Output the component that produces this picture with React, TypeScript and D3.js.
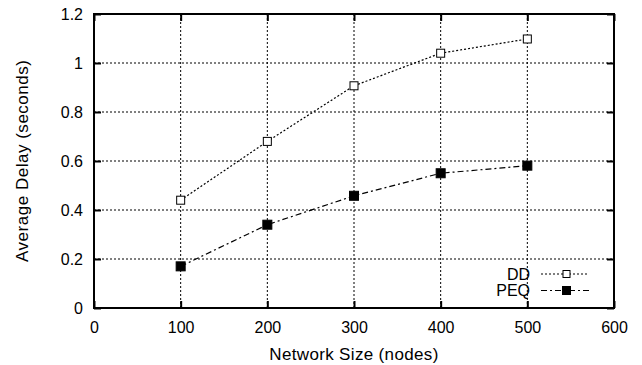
import React, { useRef, useEffect } from 'react';
import * as d3 from 'd3';

// Data
const nodes = [100, 200, 300, 400, 500];
const ddDelay = [0.44, 0.68, 0.907, 1.04, 1.098];
const peqDelay = [0.17, 0.34, 0.458, 0.55, 0.581];
const xTicks = [0, 100, 200, 300, 400, 500, 600];
const yTicks = [0, 0.2, 0.4, 0.6, 0.8, 1, 1.2];
const seriesNames = ['DD', 'PEQ'];

const App = () => {
  const chartRef = useRef<SVGSVGElement | null>(null);

  useEffect(() => {
    const width = 642;
    const height = 365;
    const margin = { top: 14, right: 28, bottom: 57, left: 94 };
    const font = '"Liberation Sans", Arial, sans-serif';

    const svg = d3.select(chartRef.current);
    svg.selectAll('*').remove();

    const innerW = width - margin.left - margin.right;
    const innerH = height - margin.top - margin.bottom;

    const x = d3.scaleLinear().domain([0, 600]).range([0, innerW]);
    const y = d3.scaleLinear().domain([0, 1.2]).range([innerH, 0]);

    const g = svg
      .append('g')
      .attr('transform', `translate(${margin.left},${margin.top})`);

    // grid
    g.selectAll('.gx')
      .data(xTicks.slice(1, -1))
      .enter()
      .append('line')
      .attr('x1', (d) => x(d))
      .attr('x2', (d) => x(d))
      .attr('y1', 0)
      .attr('y2', innerH)
      .attr('stroke', '#000')
      .attr('stroke-width', 1)
      .attr('stroke-dasharray', '2,2');

    g.selectAll('.gy')
      .data(yTicks.slice(1, -1))
      .enter()
      .append('line')
      .attr('x1', 0)
      .attr('x2', innerW)
      .attr('y1', (d) => y(d))
      .attr('y2', (d) => y(d))
      .attr('stroke', '#000')
      .attr('stroke-width', 1)
      .attr('stroke-dasharray', '2,2');

    // axes with inward ticks on all four sides
    const tickLen = 7;
    const bottom = g
      .append('g')
      .attr('transform', `translate(0,${innerH})`)
      .call(d3.axisBottom(x).tickValues(xTicks).tickSize(-tickLen).tickPadding(14).tickFormat(d3.format('d')));
    const top = g
      .append('g')
      .call(d3.axisTop(x).tickValues(xTicks).tickSize(-tickLen).tickFormat(() => ''));
    const left = g
      .append('g')
      .call(d3.axisLeft(y).tickValues(yTicks).tickSize(-tickLen).tickPadding(11).tickFormat((d) => String(+d)));
    const right = g
      .append('g')
      .attr('transform', `translate(${innerW},0)`)
      .call(d3.axisRight(y).tickValues(yTicks).tickSize(-tickLen).tickFormat(() => ''));

    [bottom, top, left, right].forEach((ax) => {
      ax.select('.domain').remove();
      ax.selectAll('.tick line').attr('stroke', '#000').attr('stroke-width', 2);
      ax.selectAll('.tick text')
        .attr('fill', '#000')
        .style('font-family', font)
        .style('font-size', '16px');
    });

    // frame
    g.append('rect')
      .attr('x', 0)
      .attr('y', 0)
      .attr('width', innerW)
      .attr('height', innerH)
      .attr('fill', 'none')
      .attr('stroke', '#000')
      .attr('stroke-width', 2);

    // series
    const styles = [
      { values: ddDelay, dash: '2,2', filled: false, size: 8 },
      { values: peqDelay, dash: '6,3,2,3', filled: true, size: 9 },
    ];

    const line = d3
      .line<number>()
      .x((_, i) => x(nodes[i]))
      .y((d) => y(d));

    styles.forEach((s) => {
      g.append('path')
        .datum(s.values)
        .attr('d', line)
        .attr('fill', 'none')
        .attr('stroke', '#000')
        .attr('stroke-width', 1.2)
        .attr('stroke-dasharray', s.dash);

      g.selectAll(null)
        .data(s.values)
        .enter()
        .append('rect')
        .attr('x', (_, i) => x(nodes[i]) - s.size / 2)
        .attr('y', (d) => y(d) - s.size / 2)
        .attr('width', s.size)
        .attr('height', s.size)
        .attr('fill', s.filled ? '#000' : '#fff')
        .attr('stroke', '#000')
        .attr('stroke-width', 1);
    });

    // legend
    const legend = svg.append('g');
    seriesNames.forEach((name, i) => {
      const s = styles[i];
      const ly = 274 + i * 16.5;
      legend
        .append('text')
        .attr('x', 530)
        .attr('y', ly)
        .attr('dy', '0.36em')
        .attr('text-anchor', 'end')
        .style('font-family', font)
        .style('font-size', '16px')
        .text(name);
      legend
        .append('line')
        .attr('x1', 541)
        .attr('x2', 589)
        .attr('y1', ly)
        .attr('y2', ly)
        .attr('stroke', '#000')
        .attr('stroke-width', 1.2)
        .attr('stroke-dasharray', s.dash);
      legend
        .append('rect')
        .attr('x', 566.5 - (s.size - 1) / 2)
        .attr('y', ly - (s.size - 1) / 2)
        .attr('width', s.size - 1)
        .attr('height', s.size - 1)
        .attr('fill', s.filled ? '#000' : '#fff')
        .attr('stroke', '#000')
        .attr('stroke-width', 1);
    });

    // axis titles
    svg
      .append('text')
      .attr('x', 353.8)
      .attr('y', 353.5)
      .attr('dy', '0.36em')
      .attr('text-anchor', 'middle')
      .attr('textLength', 169)
      .style('font-family', font)
      .style('font-size', '17px')
      .text('Network Size (nodes)');

    svg
      .append('text')
      .attr('transform', `translate(22,161) rotate(-90)`)
      .attr('dy', '0.36em')
      .attr('text-anchor', 'middle')
      .attr('textLength', 202)
      .style('font-family', font)
      .style('font-size', '17px')
      .text('Average Delay (seconds)');
  }, []);

  return (
    <svg
      ref={chartRef}
      width={642}
      height={365}
      style={{ position: 'absolute', left: 0, top: 0, background: '#fff' }}
    />
  );
};

export default App;
